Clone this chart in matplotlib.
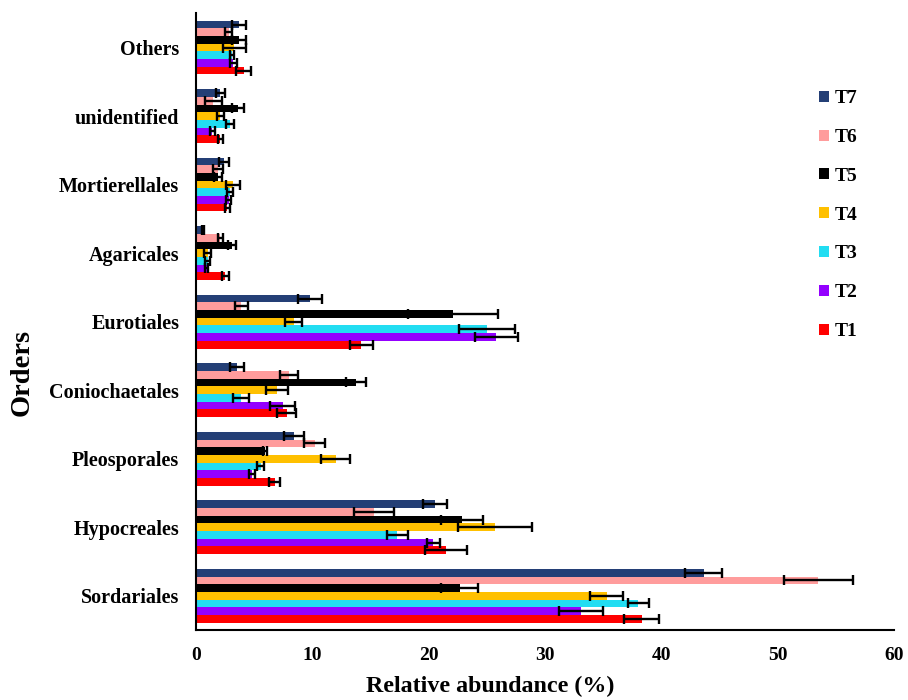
import numpy as np
import matplotlib
matplotlib.use("Agg")
import matplotlib.pyplot as plt

plt.rcParams['font.family'] = ['Liberation Serif', 'DejaVu Serif']
plt.rcParams['font.weight'] = 'bold'

# orders, bottom to top
orders = ['Sordariales', 'Hypocreales', 'Pleosporales', 'Coniochaetales', 'Eurotiales',
          'Agaricales', 'Mortierellales', 'unidentified', 'Others']

t1 = [38.3, 21.45, 6.75, 7.8, 14.2, 2.5, 2.7, 2.1, 4.1]
t2 = [33.1, 20.4, 4.8, 7.45, 25.8, 0.9, 2.8, 1.4, 3.2]
t3 = [38.0, 17.3, 5.55, 3.85, 25.0, 1.0, 2.95, 2.9, 3.1]
t4 = [35.3, 25.7, 12.0, 6.95, 8.4, 1.0, 3.2, 2.1, 3.3]
t5 = [22.65, 22.9, 5.95, 13.75, 22.1, 3.1, 1.9, 3.6, 3.7]
t6 = [53.5, 15.3, 10.2, 8.0, 3.9, 2.1, 1.9, 1.5, 2.8]
t7 = [43.65, 20.55, 8.4, 3.5, 9.8, 0.6, 2.4, 2.1, 3.7]

e1 = [1.5, 1.8, 0.45, 0.8, 1.0, 0.3, 0.25, 0.2, 0.65]
e2 = [1.9, 0.55, 0.25, 1.1, 1.85, 0.15, 0.2, 0.2, 0.3]
e3 = [0.9, 0.9, 0.3, 0.7, 2.4, 0.2, 0.25, 0.35, 0.15]
e4 = [1.4, 3.15, 1.25, 0.95, 0.75, 0.3, 0.6, 0.3, 1.0]
e5 = [1.6, 1.8, 0.17, 0.85, 3.9, 0.35, 0.35, 0.5, 0.6]
e6 = [3.0, 1.7, 0.9, 0.75, 0.55, 0.25, 0.45, 0.7, 0.3]
e7 = [1.6, 1.05, 0.85, 0.6, 1.0, 0.1, 0.4, 0.4, 0.6]

names = ['T1', 'T2', 'T3', 'T4', 'T5', 'T6', 'T7']
vals = [t1, t2, t3, t4, t5, t6, t7]
errs = [e1, e2, e3, e4, e5, e6, e7]
colors = ['#FF0000', '#9400FF', '#22DDF2', '#FFC000', '#000000', '#FF9C9C', '#243F76']

fig = plt.figure(figsize=(9.08, 7.0), dpi=100)
ax = fig.add_axes([0.2159, 0.1, 0.7687, 0.881])

y = np.arange(len(orders))
h = 0.112
for i, (n, v, e, c) in enumerate(zip(names, vals, errs, colors)):
    pos = y + (i - 3) * h
    ax.barh(pos, v, height=h, color=c, label=n, zorder=2)
    ax.errorbar(v, pos, xerr=e, fmt='none', ecolor='black', elinewidth=1.7,
                capsize=3.8, capthick=1.7, zorder=3)

ax.set_xlim(0, 60)
ax.set_ylim(-0.5, len(orders) - 0.5)
ax.set_xticks(np.arange(0, 61, 10))
ax.set_yticks(y)
ax.set_yticklabels(orders, fontsize=14.5, fontweight='bold')
ax.tick_params(axis='x', labelsize=14, length=0, pad=12)
ax.tick_params(axis='y', length=0, pad=12)
for lab in ax.get_xticklabels():
    lab.set_fontweight('bold')

ax.spines['top'].set_visible(False)
ax.spines['right'].set_visible(False)
ax.spines['left'].set_linewidth(1.5)
ax.spines['bottom'].set_linewidth(1.5)

# axis titles sit off-centre in the original
fig.text(490 / 908, 1 - 686 / 700, 'Relative abundance (%)', fontsize=17.3,
         fontweight='bold', ha='center', va='center')
fig.text(22 / 908, 1 - 372 / 700, 'Orders', fontsize=20.5, fontweight='bold',
         ha='center', va='center', rotation=90)

handles, labels = ax.get_legend_handles_labels()
leg = ax.legend(handles[::-1], labels[::-1], loc='upper left',
                bbox_to_anchor=(0.883, 0.896), bbox_transform=fig.transFigure,
                frameon=False, fontsize=14, labelspacing=1.12,
                handlelength=0.5, handleheight=0.5, handletextpad=0.3)
for t in leg.get_texts():
    t.set_fontweight('bold')

fig.savefig('out.png', dpi=100)
